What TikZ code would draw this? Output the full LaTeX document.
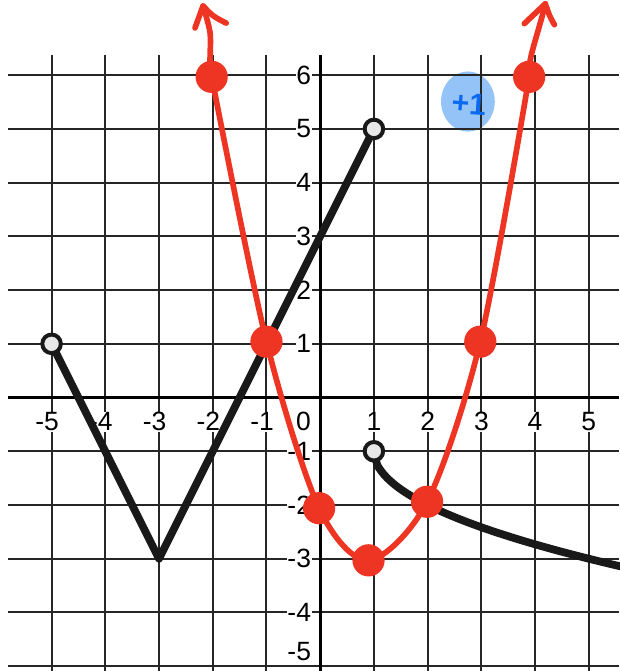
\documentclass[tikz,border=0pt]{standalone}
\usepackage{fontspec}
\setmainfont{Liberation Sans}
\definecolor{penred}{HTML}{EE3524}
\definecolor{hiblue}{HTML}{94C3F7}
\definecolor{inkblue}{HTML}{0C6AF0}
\definecolor{holefill}{HTML}{E8E8E8}
\begin{document}
\begin{tikzpicture}[x=1cm,y=1cm,
  gridline/.style={line width=1.05pt,black!85},
  axisline/.style={line width=1.7pt,black},
  numlab/.style={fill=white,inner sep=0.4pt,font=\fontsize{14}{14}\selectfont},
  graphline/.style={line width=4.1pt,black!90,line join=round},
  sketch/.style={line width=3pt,penred,line cap=round,line join=round},
  reddot/.style={circle,fill=penred,inner sep=0pt,minimum size=0.6cm},
  hole/.style={circle,draw=black!90,line width=2.1pt,fill=holefill,inner sep=0pt,minimum size=0.345cm}]
  \useasboundingbox (-5.96,-5.09) rectangle (5.57,7.40);
  % highlight behind the grid
  \fill[hiblue] (2.75,5.51) ellipse (0.5 and 0.56);
  % grid and axes
  \foreach \y in {-5,...,6} \draw[gridline] (-5.81,\y) -- (5.57,\y);
  \foreach \x in {-5,...,5} \draw[gridline] (\x,6.38) -- (\x,-5.09);
  \draw[axisline] (-5.81,0) -- (5.57,0);
  \draw[axisline] (0,6.38) -- (0,-5.09);
  % numbers on the axes
  \foreach \n in {1,...,5} {
    \node[numlab] (xm\n) at (-\n,-0.45) {\llap{-}\n};
    \node[numlab] (xp\n) at (\n,-0.45) {\n};
  }
  \node[numlab] (xzero) at (-0.31,-0.45) {0};
  \foreach \n in {1,...,6}
    \node[numlab,anchor=east] (yp\n) at (-0.15,\n) {\n};
  \foreach \n in {1,...,4}
    \node[numlab,anchor=east] (ym\n) at (-0.15,-\n) {-\n};
  \node[numlab,anchor=east] (ym5) at (-0.15,-4.73) {-5};
  % black function
  \coordinate (lefthole) at (-5,1);
  \coordinate (vertex) at (-3,-3);
  \coordinate (tophole) at (1,5);
  \coordinate (lowhole) at (1,-1);
  \draw[graphline] (lefthole) -- (vertex) -- (tophole);
  \draw[graphline] plot[domain=1:5.7,samples=80,smooth] (\x,{-1-sqrt(\x-1)});
  \node[hole] (h1) at (lefthole) {};
  \node[hole] (h2) at (tophole) {};
  \node[hole] (h3) at (lowhole) {};
  % red sketch
  \draw[sketch] plot[smooth,tension=0.5] coordinates
    {(-2.02,5.97) (-1.0,1.04) (-0.02,-2.06) (0.9,-3.03) (1.99,-1.94) (2.98,1.04) (3.89,5.97)};
  \draw[sketch] plot[smooth] coordinates {(-2.02,5.97) (-2.05,6.23) (-2.05,6.79) (-2.18,7.29)};
  \draw[sketch] (-2.33,6.88) -- (-2.18,7.29) .. controls (-2.0,7.1) .. (-1.75,6.97);
  \draw[sketch] plot[smooth] coordinates {(3.89,5.97) (3.91,6.28) (3.97,6.53) (4.13,7.09) (4.19,7.33)};
  \draw[sketch] (3.80,6.96) -- (4.19,7.33) .. controls (4.27,7.1) .. (4.36,6.94);
  \foreach \px/\py [count=\k] in {-2.02/5.97,-1.0/1.04,-0.02/-2.06,0.9/-3.03,1.99/-1.94,2.98/1.04,3.89/5.97}
    \node[reddot] (dot\k) at (\px,\py) {};
  % note in the corner
  \node[inkblue,font=\fontsize{16}{16}\selectfont\bfseries,rotate=-4] (plusone) at (2.77,5.47) {+1};
\end{tikzpicture}
\end{document}
